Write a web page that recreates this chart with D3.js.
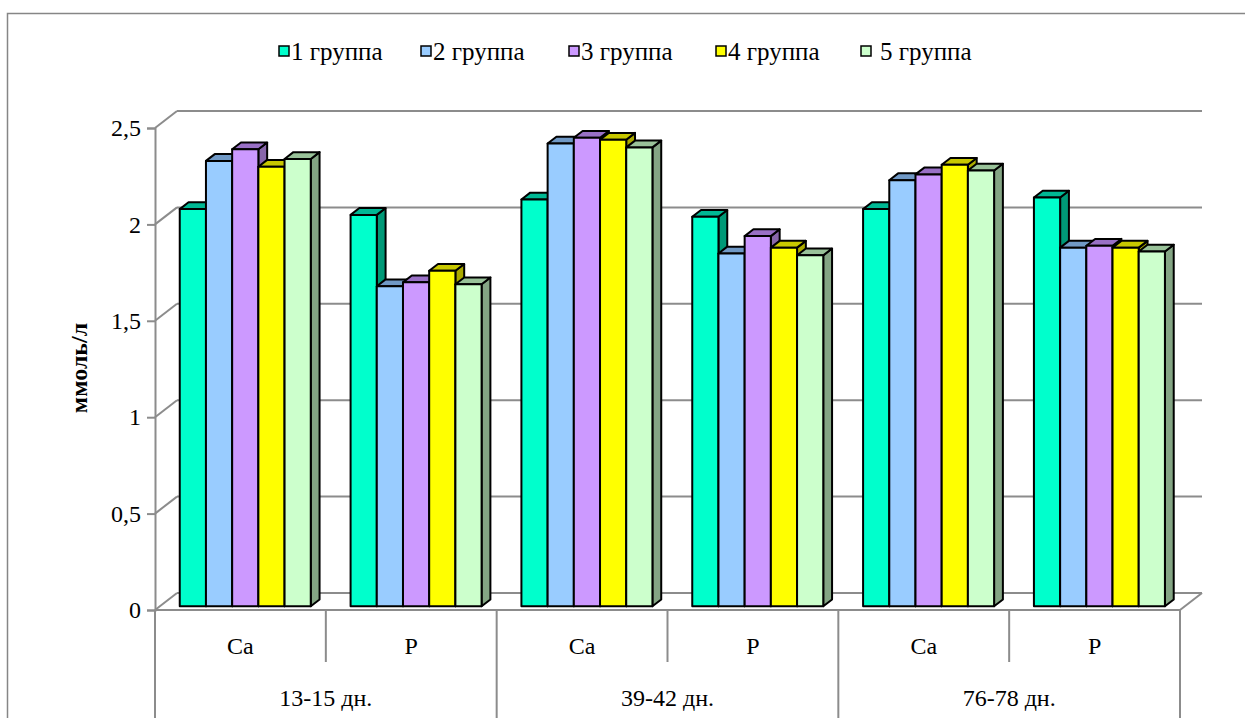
<!DOCTYPE html>
<html>
<head>
<meta charset="utf-8">
<script src="https://cdn.jsdelivr.net/npm/d3@7/dist/d3.min.js"></script>
<style>
  html, body { margin: 0; padding: 0; background: #fff; }
  svg { display: block; }
</style>
</head>
<body>
<svg id="chart" width="1245" height="718"></svg>
<script>
// Serum calcium and phosphorus by age period and group, mmol/l
const periods = ["13-15 дн.", "39-42 дн.", "76-78 дн."];
const elements = ["Ca", "P"];
const groups = ["1 группа", "2 группа", "3 группа", "4 группа", "5 группа"];

// one array per group, ordered: 13-15 Ca, 13-15 P, 39-42 Ca, 39-42 P, 76-78 Ca, 76-78 P
const group1 = [2.06, 2.03, 2.11, 2.02, 2.06, 2.12];
const group2 = [2.31, 1.66, 2.40, 1.83, 2.21, 1.86];
const group3 = [2.37, 1.68, 2.43, 1.92, 2.24, 1.87];
const group4 = [2.28, 1.74, 2.42, 1.86, 2.29, 1.86];
const group5 = [2.32, 1.67, 2.38, 1.82, 2.26, 1.84];
const seriesValues = [group1, group2, group3, group4, group5];

const yTicks = [0, 0.5, 1, 1.5, 2, 2.5];
const yTickLabels = ["0", "0,5", "1", "1,5", "2", "2,5"];

// face colours per group: front, top, side
const palette = [
  { front: "#00FFCC", top: "#00B894", side: "#009977" },
  { front: "#99CCFF", top: "#7099C6", side: "#6688AA" },
  { front: "#CC99FF", top: "#9970C6", side: "#8866AA" },
  { front: "#FFFF00", top: "#C8C800", side: "#AAAA00" },
  { front: "#CCFFCC", top: "#99C299", side: "#84A584" }
];

const FONT = "Times New Roman, Tinos, Liberation Serif, serif";
const FS = "24px";
const svg = d3.select("#chart");
const gridColor = "#8C8C8C";

// all labels share one serif face
function label(sel) {
  return sel
    .style("font-family", FONT)
    .style("font-size", FS)
    .attr("fill", "#000");
}

// plot frame (front plane) and oblique depth
const left = 155, right = 1180, base = 610, topY = 128;
const DX = 22, DY = -17;
const depthFront = 0.22, depthBack = 0.62;

const y = d3.scaleLinear().domain([0, 2.5]).range([base, topY]);

const categories = [];
periods.forEach(p => elements.forEach(e => categories.push(p + "|" + e)));

const x = d3.scaleBand().domain(categories).range([left, right]).paddingInner(0).paddingOuter(0);
const xs = d3.scaleBand().domain(d3.range(groups.length)).range([0, x.bandwidth()]).paddingInner(0).paddingOuter(0.76);

// outer chart border
svg.append("rect")
  .attr("x", 7.5).attr("y", 13.5)
  .attr("width", 1260).attr("height", 720)
  .attr("fill", "#fff").attr("stroke", "#868686").attr("stroke-width", 1.5);

// back wall gridlines and side-wall connectors
const grid = svg.append("g").attr("stroke", gridColor).attr("stroke-width", 2).attr("fill", "none");
yTicks.forEach(t => {
  const yy = y(t);
  grid.append("line")
    .attr("x1", left + DX).attr("y1", yy + DY)
    .attr("x2", right + DX).attr("y2", yy + DY);
  grid.append("line")
    .attr("x1", left).attr("y1", yy)
    .attr("x2", left + DX).attr("y2", yy + DY);
});
// floor front edge and right edge
grid.append("line").attr("x1", left).attr("y1", base).attr("x2", right).attr("y2", base);
grid.append("line").attr("x1", right).attr("y1", base).attr("x2", right + DX).attr("y2", base + DY);

// value axis on the front plane (line and ticks from d3.axisLeft, labels placed by the same scale)
const yAxis = d3.axisLeft(y).tickValues(yTicks).tickSize(8).tickFormat("");
const yg = svg.append("g").attr("transform", `translate(${left},0)`).call(yAxis);
yg.select(".domain").attr("stroke", gridColor).attr("stroke-width", 2);
yg.selectAll(".tick line").attr("stroke", gridColor).attr("stroke-width", 2);
yTicks.forEach((t, i) => {
  label(svg.append("text"))
    .attr("x", left - 14).attr("y", y(t)).attr("dy", "0.34em")
    .attr("text-anchor", "end")
    .text(yTickLabels[i]);
});

// axis title
label(svg.append("text"))
  .attr("transform", "translate(87,368) rotate(-90)")
  .attr("text-anchor", "middle")
  .style("font-weight", "bold")
  .text("ммоль/л");

// bars, drawn cluster by cluster left to right so later faces overlap earlier sides
const y0 = y(0);
const fdx = DX * depthFront, fdy = DY * depthFront;
const bdx = DX * depthBack, bdy = DY * depthBack;
const bars = svg.append("g").attr("stroke", "#000").attr("stroke-width", 2).attr("stroke-linejoin", "round");

categories.forEach((cat, ci) => {
  seriesValues.forEach((vals, si) => {
    const v = vals[ci];
    const x0 = x(cat) + xs(si), x1 = x0 + xs.bandwidth();
    const yv = y(v);
    const col = palette[si];
    const g = bars.append("g");
    g.append("polygon")
      .attr("points", [[x1 + fdx, yv + fdy], [x1 + bdx, yv + bdy], [x1 + bdx, y0 + bdy], [x1 + fdx, y0 + fdy]].join(" "))
      .attr("fill", col.side);
    g.append("polygon")
      .attr("points", [[x0 + fdx, yv + fdy], [x1 + fdx, yv + fdy], [x1 + bdx, yv + bdy], [x0 + bdx, yv + bdy]].join(" "))
      .attr("fill", col.top);
    g.append("rect")
      .attr("x", x0 + fdx).attr("y", yv + fdy)
      .attr("width", x1 - x0).attr("height", y0 - yv)
      .attr("fill", col.front);
  });
});

// category axis: separators and two label rows
const bounds = categories.map(c => x(c)).concat([right]);
bounds.forEach((bx, i) => {
  const isGroupEdge = i % 2 === 0;
  svg.append("line")
    .attr("x1", bx).attr("x2", bx)
    .attr("y1", base).attr("y2", isGroupEdge ? 718 : 662)
    .attr("stroke", gridColor).attr("stroke-width", 2);
});
categories.forEach((c, i) => {
  label(svg.append("text"))
    .attr("x", x(c) + x.bandwidth() / 2).attr("y", 654)
    .attr("text-anchor", "middle")
    .text(elements[i % 2]);
});
periods.forEach((p, i) => {
  const cx = x(categories[i * 2]) + x.bandwidth();
  label(svg.append("text"))
    .attr("x", cx).attr("y", 706)
    .attr("text-anchor", "middle")
    .text(p);
});

// legend
const legendX = [279, 421, 569, 716, 861];
groups.forEach((name, i) => {
  svg.append("rect")
    .attr("x", legendX[i]).attr("y", 46)
    .attr("width", 10).attr("height", 10)
    .attr("fill", palette[i].front).attr("stroke", "#000").attr("stroke-width", 1.5);
  label(svg.append("text"))
    .attr("x", legendX[i] + 12 + (i === 4 ? 7 : 0)).attr("y", 60)
    .style("font-size", "25px")
    .text(name);
});
</script>
</body>
</html>
